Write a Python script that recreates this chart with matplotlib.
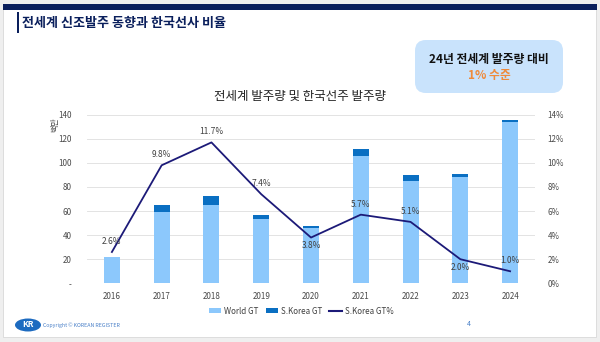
import matplotlib
matplotlib.use("Agg")
import matplotlib.pyplot as plt
from matplotlib.patches import Rectangle, FancyBboxPatch, Ellipse, Patch
from matplotlib.lines import Line2D

plt.rcParams["font.family"] = ["Noto Sans CJK KR", "DejaVu Sans"]

years = ["2016", "2017", "2018", "2019", "2020", "2021", "2022", "2023", "2024"]
world_gt = [21.5, 59.3, 65.2, 53.0, 46.1, 105.5, 85.3, 88.6, 133.9]
korea_gt = [0.6, 5.8, 7.6, 3.9, 1.7, 6.0, 4.4, 1.8, 1.3]
korea_pct = [2.6, 9.8, 11.7, 7.4, 3.8, 5.7, 5.1, 2.0, 1.0]
label_below = [False, False, False, False, True, False, False, True, False]
left_ticks = [0, 20, 40, 60, 80, 100, 120, 140]
left_tick_labels = ["-", "20", "40", "60", "80", "100", "120", "140"]
right_ticks = [0, 2, 4, 6, 8, 10, 12, 14]

LIGHT = "#8cc8fc"
DARK = "#0a6fc2"
NAVY = "#1c1a78"
TICK = "#4a4a4a"

W, H = 600, 342
fig = plt.figure(figsize=(6.0, 3.42), dpi=100, facecolor="#efefef")


def fx(px):
    return px / W


def fy(py):
    return 1 - py / H


# slide frame
fig.patches.append(Rectangle((fx(3), fy(337)), fx(593), (337 - 4) / H, transform=fig.transFigure,
                             facecolor="white", edgecolor="#d8d8d8", lw=0.6, zorder=-3))
fig.patches.append(Rectangle((fx(3), fy(10)), fx(594), 6 / H, transform=fig.transFigure,
                             facecolor="#0a1f5c", edgecolor="none", zorder=-2))
fig.patches.append(Rectangle((fx(17), fy(33)), fx(2), 21 / H, transform=fig.transFigure,
                             facecolor="#0a1f5c", edgecolor="none", zorder=-2))
fig.text(fx(22), fy(23), "전세계 신조발주 동향과 한국선사 비율", fontsize=9.4, fontweight="bold",
         color="#0a1f5c", va="center", ha="left")

# highlight box
fig.patches.append(FancyBboxPatch((fx(415), fy(93)), fx(148), 53 / H, transform=fig.transFigure,
                                  boxstyle="round,pad=0,rounding_size=0.018", mutation_aspect=W / H,
                                  facecolor="#c9e3fc", edgecolor="none", zorder=-2))
fig.text(fx(489), fy(60), "24년 전세계 발주량 대비", fontsize=8.5, fontweight="bold",
         color="#111111", ha="center", va="center")
fig.text(fx(489), fy(75), "1% 수준", fontsize=8.5, fontweight="bold",
         color="#ef8a3a", ha="center", va="center")

fig.text(fx(300), fy(96.5), "전세계 발주량 및 한국선주 발주량", fontsize=9, color="#222222",
         ha="center", va="center")

# chart
ax = fig.add_axes([fx(87), fy(283.3), fx(448), 168.6 / H])
ax.set_facecolor("none")
x = list(range(len(years)))
ax.bar(x, world_gt, width=0.32, color=LIGHT, zorder=2)
ax.bar(x, korea_gt, width=0.32, bottom=world_gt, color=DARK, zorder=2)
ax.set_xlim(-0.5, 8.5)
ax.set_ylim(0, 140)
ax.set_yticks(left_ticks)
ax.set_yticklabels(left_tick_labels)
ax.set_xticks(x)
ax.set_xticklabels(years)
ax.grid(axis="y", color="#e3e3e3", lw=0.7, zorder=0)
ax.set_axisbelow(True)
for s in ax.spines.values():
    s.set_visible(False)
ax.tick_params(length=0, labelsize=5.8, colors=TICK, pad=6)
ax.tick_params(axis="y", pad=11)

ax2 = ax.twinx()
ax2.plot(x, korea_pct, color=NAVY, lw=1.3, zorder=3)
ax2.set_ylim(0, 14)
ax2.set_yticks(right_ticks)
ax2.set_yticklabels([f"{t}%" for t in right_ticks])
for s in ax2.spines.values():
    s.set_visible(False)
ax2.tick_params(length=0, labelsize=5.8, colors=TICK, pad=9)
for xi, v, below in zip(x, korea_pct, label_below):
    ax2.annotate(f"{v:.1f}%", (xi, v), xytext=(0, -6 if below else 7.5), textcoords="offset points",
                 ha="center", va="center", fontsize=6, color="#404040")

fig.text(fx(54.5), fy(124.5), "백만", rotation=90, fontsize=5.8, color=TICK, ha="center", va="center")

handles = [Patch(facecolor=LIGHT), Patch(facecolor=DARK), Line2D([], [], color=NAVY, lw=1.5)]
fig.legend(handles, ["World GT", "S.Korea GT", "S.Korea GT%"], loc="center", bbox_to_anchor=(fx(301), fy(311)),
           ncol=3, frameon=False, fontsize=5.8, handlelength=1.6, handleheight=0.5, handletextpad=0.3,
           columnspacing=0.9, labelcolor="#404040")

# footer
fig.patches.append(Ellipse((fx(28), fy(325)), fx(26), 13 / H, transform=fig.transFigure,
                           facecolor="#1d6bc0", edgecolor="none"))
fig.text(fx(28), fy(324.5), "KR", fontsize=6, fontweight="bold", style="italic", color="white",
         ha="center", va="center")
fig.text(fx(43), fy(325), "Copyright © KOREAN REGISTER", fontsize=3.8, color="#4a80c8",
         ha="left", va="center")
fig.text(fx(469), fy(324), "4", fontsize=5, color="#4a80c8", ha="center", va="center")

fig.savefig("out.png", dpi=100, facecolor=fig.get_facecolor())
